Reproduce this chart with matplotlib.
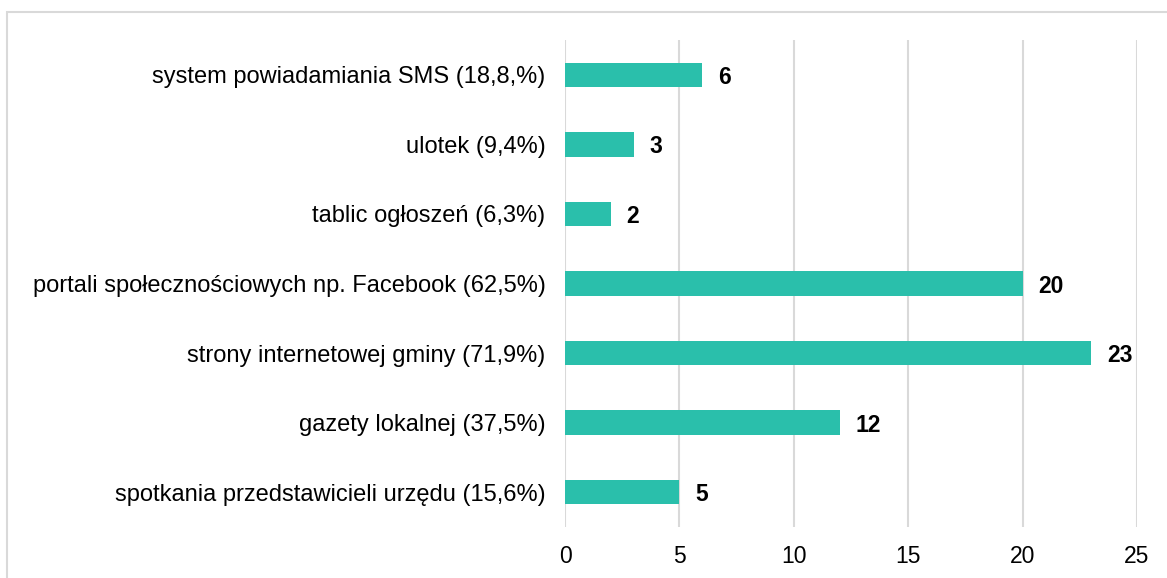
import matplotlib.pyplot as plt
from matplotlib.patches import Rectangle

categories = [
    "system powiadamiania SMS (18,8,%)",
    "ulotek (9,4%)",
    "tablic ogłoszeń (6,3%)",
    "portali społecznościowych np. Facebook (62,5%)",
    "strony internetowej gminy (71,9%)",
    "gazety lokalnej (37,5%)",
    "spotkania przedstawicieli urzędu (15,6%)",
]
values = [6, 3, 2, 20, 23, 12, 5]
xticks = [0, 5, 10, 15, 20, 25]

plt.rcParams['font.family'] = ['Liberation Sans', 'DejaVu Sans']

fig = plt.figure(figsize=(11.67, 5.78), dpi=100)
ax = fig.add_axes([565 / 1167, 1 - 527 / 578, 572 / 1167, 487 / 578])

# frame around the chart area (cut off at right/bottom like the original)
fig.patches.append(Rectangle((7 / 1167, -0.1), 1.2, 1.1 - 12 / 578,
                             transform=fig.transFigure, fill=False,
                             edgecolor='#D9D9D9', linewidth=1.5))

pos = list(range(len(categories)))
ax.barh(pos, values, height=0.35, color='#2ABFAB', zorder=3)
for p, v in zip(pos, values):
    ax.annotate(str(v), (v, p), xytext=(11.5, 0), textcoords='offset points',
                va='center_baseline', ha='left', fontsize=16.5, fontweight='bold')

ax.set_yticks(pos)
ax.set_yticklabels(categories, fontsize=17)
ax.set_ylim(len(categories) - 0.5, -0.5)
ax.set_xlim(0, 25)
ax.set_xticks(xticks)
ax.tick_params(axis='x', labelsize=16.5, length=0, pad=13)
ax.tick_params(axis='y', length=0, pad=14)
ax.grid(axis='x', color='#D9D9D9', linewidth=1.5, zorder=0)
for s in ax.spines.values():
    s.set_visible(False)

fig.savefig('out.png', dpi=100)
